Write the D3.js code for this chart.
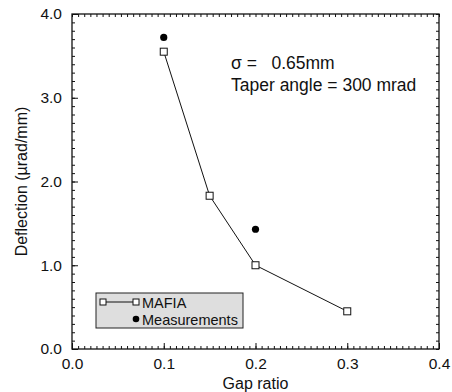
<!DOCTYPE html>
<html>
<head>
<meta charset="utf-8">
<script src="https://cdn.jsdelivr.net/npm/d3@7"></script>
<style>
  body { margin: 0; background: #fff; }
  text { font-family: "Liberation Sans", Arial, sans-serif; fill: #111; }
</style>
</head>
<body>
<div id="chart"></div>
<script>
// data
const mafiaGap = [0.1, 0.15, 0.2, 0.3];
const mafiaDefl = [3.55, 1.83, 1.0, 0.45];
const measGap = [0.1, 0.2];
const measDefl = [3.72, 1.43];
const xTicks = [0.0, 0.1, 0.2, 0.3, 0.4];
const yTicks = [0.0, 1.0, 2.0, 3.0, 4.0];

const width = 452, height = 392;
const margin = {top: 14, right: 13, bottom: 43, left: 72};
const w = width - margin.left - margin.right;
const h = height - margin.top - margin.bottom;

let svg = d3.select("#chart")
    .append("svg")
    .attr("width", width)
    .attr("height", height)
    .append("g")
    .attr("transform", `translate(${margin.left}, ${margin.top})`);

let x = d3.scaleLinear().domain([0, 0.4]).range([0, w]);
let y = d3.scaleLinear().domain([0, 4]).range([h, 0]);

// minor ticks
let xMinor = d3.range(0, 61).map(function(i) { return i * 0.4 / 60; });
let yMinor = d3.range(0, 41).map(function(i) { return i * 0.1; });

function styleAxis(g) {
    g.select(".domain").remove();
    g.selectAll("line").attr("stroke", "#111");
}

// bottom & top minor / major ticks (inward)
svg.append("g").attr("transform", `translate(0, ${h})`)
    .call(d3.axisBottom(x).tickValues(xMinor).tickSize(-3).tickFormat(""))
    .call(styleAxis);
svg.append("g").attr("transform", `translate(0, ${h})`)
    .call(d3.axisBottom(x).tickValues(xTicks).tickSize(-6).tickPadding(9).tickFormat(d3.format(".1f")))
    .call(styleAxis)
    .selectAll("text").style("font-size", "15.5px").attr("fill", "#111");
svg.append("g")
    .call(d3.axisTop(x).tickValues(xMinor).tickSize(-3).tickFormat(""))
    .call(styleAxis);

// left & right
svg.append("g")
    .call(d3.axisLeft(y).tickValues(yMinor).tickSize(-3).tickFormat(""))
    .call(styleAxis);
svg.append("g")
    .call(d3.axisLeft(y).tickValues(yTicks).tickSize(-6).tickPadding(10).tickFormat(d3.format(".1f")))
    .call(styleAxis)
    .selectAll("text").style("font-size", "15.5px").attr("fill", "#111");
svg.append("g").attr("transform", `translate(${w}, 0)`)
    .call(d3.axisRight(y).tickValues(yMinor).tickSize(-3).tickFormat(""))
    .call(styleAxis);

// frame
svg.append("rect")
    .attr("width", w).attr("height", h)
    .attr("fill", "none").attr("stroke", "#111").attr("stroke-width", 1.3);

// axis titles
svg.append("text")
    .attr("x", w / 2).attr("y", h + 40)
    .style("text-anchor", "middle").style("font-size", "16px")
    .text("Gap ratio");
svg.append("text")
    .attr("transform", `translate(${-45}, ${h / 2}) rotate(-90)`)
    .style("text-anchor", "middle").style("font-size", "16px")
    .text("Deflection (\u00b5rad/mm)");

// MAFIA line + squares
let mafia = mafiaGap.map(function(g, i) { return {g: g, d: mafiaDefl[i]}; });
svg.append("path")
    .datum(mafia)
    .attr("fill", "none").attr("stroke", "#111").attr("stroke-width", 1)
    .attr("d", d3.line().x(function(d) { return x(d.g); }).y(function(d) { return y(d.d); }));
svg.selectAll(".sq").data(mafia).enter()
    .append("rect")
    .attr("x", function(d) { return x(d.g) - 3.5; })
    .attr("y", function(d) { return y(d.d) - 3.5; })
    .attr("width", 7).attr("height", 7)
    .attr("fill", "#fff").attr("stroke", "#111").attr("stroke-width", 1);

// measurements
svg.selectAll(".dot").data(measGap).enter()
    .append("circle")
    .attr("cx", function(d) { return x(d); })
    .attr("cy", function(d, i) { return y(measDefl[i]); })
    .attr("r", 3.6)
    .attr("fill", "#000");

// annotation
svg.append("text").attr("x", 159).attr("y", 55).style("font-size", "17.5px")
    .style("white-space", "pre")
    .text("\u03c3 =   0.65mm");
svg.append("text").attr("x", 159).attr("y", 77).style("font-size", "17.5px")
    .text("Taper angle = 300 mrad");

// legend
let lg = svg.append("g").attr("transform", "translate(24, 279)");
lg.append("rect").attr("width", 147).attr("height", 35)
    .attr("fill", "#dedede").attr("stroke", "#222").attr("stroke-width", 1);
lg.append("line").attr("x1", 7).attr("x2", 40).attr("y1", 9).attr("y2", 9)
    .attr("stroke", "#111");
[7, 40].forEach(function(cx) {
    lg.append("rect").attr("x", cx - 3).attr("y", 6).attr("width", 6).attr("height", 6)
        .attr("fill", "#fff").attr("stroke", "#111");
});
lg.append("text").attr("x", 46).attr("y", 14.5).style("font-size", "14.5px").text("MAFIA");
lg.append("circle").attr("cx", 40).attr("cy", 26).attr("r", 3.3).attr("fill", "#000");
lg.append("text").attr("x", 46).attr("y", 31.5).style("font-size", "14.5px").text("Measurements");
</script>
</body>
</html>
